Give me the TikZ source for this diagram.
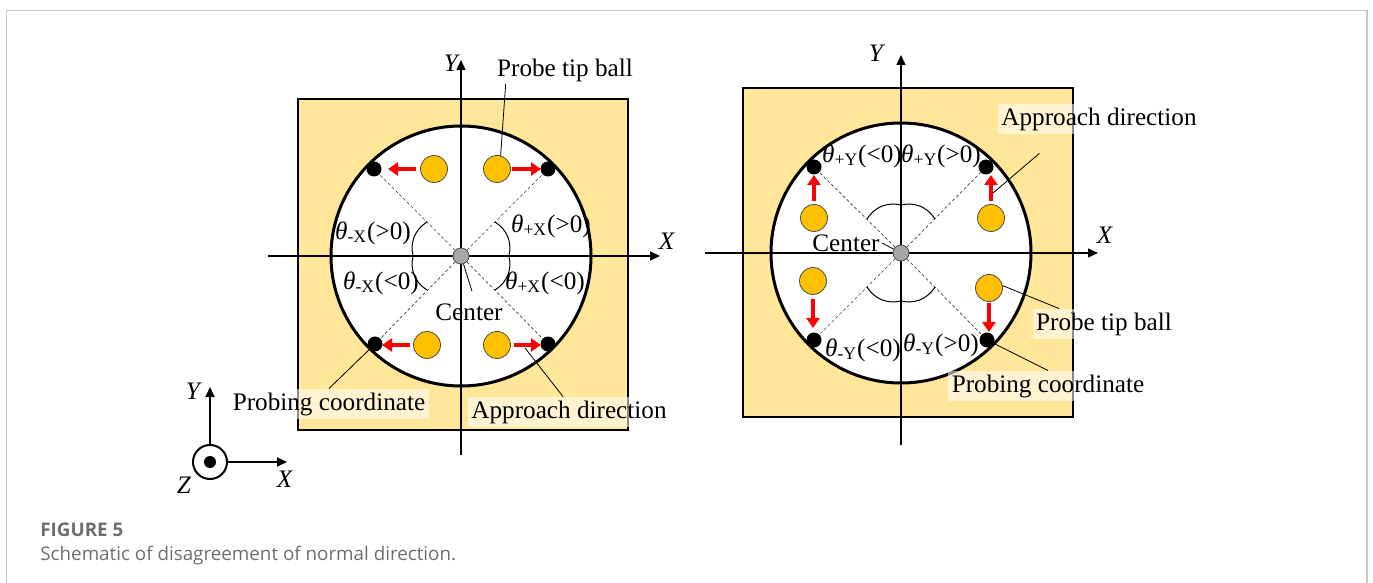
\documentclass[tikz,border=0pt]{standalone}
\usepackage{fontspec}
\setmainfont{Liberation Serif}
\newfontfamily\capfont{Open Sans}
\usetikzlibrary{arrows.meta}

\definecolor{padyellow}{HTML}{FFE699}
\definecolor{tipball}{HTML}{FFC000}
\definecolor{framegray}{HTML}{C8C8C8}
\definecolor{capgray}{HTML}{6D6E71}

\tikzset{
  ball/.style={circle, fill=tipball, draw=black!70, line width=0.4pt, minimum size=13.5pt, inner sep=0pt},
  pdot/.style={circle, fill=black, minimum size=7.5pt, inner sep=0pt},
  cdot/.style={circle, fill=black!35, draw=black!70, line width=0.4pt, minimum size=8pt, inner sep=0pt},
  lbl/.style={font=\fontsize{12.6}{15}\selectfont, inner sep=1pt},
  tag/.style={lbl, fill=white, fill opacity=0.55, text opacity=1, inner sep=1.8pt},
  axis/.style={-{Triangle[length=5pt,width=4.5pt]}, line width=0.7pt},
  leader/.style={line width=0.4pt},
  push/.style={-{Triangle[length=5pt,width=6.5pt]}, red, line width=2.4pt, shorten <=1.5pt, shorten >=3.5pt},
  ray/.style={line width=0.35pt, dash pattern=on 1.5pt off 1.2pt, black!75},
  brace/.style={line width=0.5pt},
  capfnt/.style={font=\capfont\fontsize{9.4}{11}\selectfont, text=capgray, inner sep=0pt},
}

\begin{document}
\begin{tikzpicture}[x=0.5pt, y=-0.5pt]
    \useasboundingbox (0,0) rectangle (1373,583);
    % Frame
    \draw[framegray, line width=0.8pt] (6.5,583) |- (1367,10.5) -- (1367,583);

    % Left panel: approach along X
    \filldraw[fill=padyellow, line width=0.9pt] (298,99) rectangle (628,430);
    \filldraw[fill=white, line width=1.5pt] (461,256) circle (130);
    \draw[axis] (268,256) -- (660,256);
    \draw[axis] (461,455) -- (461,60);
    \node[lbl] (LX) at (667,241) {\textit{X}};
    \node[lbl] (LY) at (452,63) {\textit{Y}};
    \node[cdot] (Lc) at (461,256) {};

    % Probing points and tip balls
    \node[pdot] (Ld1) at (374,169) {};
    \node[pdot] (Ld2) at (548,169) {};
    \node[pdot] (Ld3) at (375,344) {};
    \node[pdot] (Ld4) at (548,344) {};
    \node[ball] (Lb1) at (434,169) {};
    \node[ball] (Lb2) at (497,169) {};
    \node[ball] (Lb3) at (427,345) {};
    \node[ball] (Lb4) at (497,345) {};
    \foreach \d in {Ld1,Ld2,Ld3,Ld4}
        \draw[ray] (Lc) -- (\d);
    \draw[push, shorten >=7pt, shorten <=2pt] (Lb1) -- (Lb1 -| Ld1);
    \draw[push, shorten <=0.5pt] (Lb2) -- (Lb2 -| Ld2);
    \draw[push] (Lb3) -- (Lb3 -| Ld3);
    \draw[push] (Lb4) -- (Lb4 -| Ld4);

    % Angles
    \draw[brace] (427,222) to[bend right=35] (413,256) to[bend right=35] (427,290);
    \draw[brace] (495,222) to[bend left=35] (509,256) to[bend left=35] (495,290);
    \node[lbl] (Lt1) at (373,233) {\textit{θ}\textsubscript{-X}(>0)};
    \node[lbl] (Lt2) at (551,226) {\textit{θ}\textsubscript{+X}(>0)};
    \node[lbl] (Lt3) at (381,283) {\textit{θ}\textsubscript{-X}(<0)};
    \node[lbl] (Lt4) at (545,283) {\textit{θ}\textsubscript{+X}(<0)};

    % Callouts
    \node[lbl] (Lctr) at (469,312) {Center};
    \draw[leader] (Lc) -- ([shift={(1.5pt,5pt)}]Lctr.north);
    \node[lbl] (Lptb) at (565,70) {Probe tip ball};
    \draw[leader] ([xshift=5.5pt]Lptb.south west) -- (Lb2.75);
    \node[tag] (Lpc) at (329,404) {Probing coordinate};
    \draw[leader] (Lpc.north) -- (Ld3);
    \node[tag] (Lad) at (569,412) {Approach direction};
    \coordinate (La4) at (525,348);
    \draw[leader] ([xshift=-3pt]Lad.north) -- (La4);

    % Right panel: approach along Y
    \filldraw[fill=padyellow, line width=0.9pt] (743,88) rectangle (1073,417);
    \filldraw[fill=white, line width=1.5pt] (901,253) circle (130);
    \draw[axis] (705,253) -- (1098,253);
    \draw[axis] (901,445) -- (901,55);
    \node[lbl] (RX) at (1105,235) {\textit{X}};
    \node[lbl] (RY) at (877,53) {\textit{Y}};
    \node[cdot] (Rc) at (901,253) {};

    % Probing points and tip balls
    \node[pdot] (Rd1) at (814,167) {};
    \node[pdot] (Rd2) at (986,167) {};
    \node[pdot] (Rd3) at (814,340) {};
    \node[pdot] (Rd4) at (987,340) {};
    \node[ball] (Rb1) at (814,218) {};
    \node[ball] (Rb2) at (991,218) {};
    \node[ball] (Rb3) at (813,281) {};
    \node[ball] (Rb4) at (989,288) {};
    \foreach \d in {Rd1,Rd2,Rd3,Rd4}
        \draw[ray] (Rc) -- (\d);
    \draw[push, shorten >=4pt] (Rb1) -- (Rb1 |- Rd1);
    \draw[push, shorten >=4pt] (Rb2) -- (Rb2 |- Rd2);
    \draw[push, shorten >=6pt, shorten <=2.2pt] (Rb3) -- (Rb3 |- Rd3);
    \draw[push, shorten >=4pt, shorten <=0.8pt] (Rb4) -- (Rb4 |- Rd4);

    % Angles
    \draw[brace] (867,219) to[bend left=35] (901,205) to[bend left=35] (935,219);
    \draw[brace] (867,287) to[bend right=35] (901,301) to[bend right=35] (935,287);
    \node[lbl] (Rt1) at (862,156) {\textit{θ}\textsubscript{+Y}(<0)};
    \node[lbl] (Rt2) at (941,156) {\textit{θ}\textsubscript{+Y}(>0)};
    \node[lbl] (Rt3) at (863,350) {\textit{θ}\textsubscript{-Y}(<0)};
    \node[lbl] (Rt4) at (941,345) {\textit{θ}\textsubscript{-Y}(>0)};

    % Callouts
    \node[lbl] (Rctr) at (846,243) {Center};
    \draw[leader] (Rctr.east) -- (Rc);
    \node[tag] (Rad) at (1099,119) {Approach direction};
    \coordinate (Ra2) at (993,193);
    \draw[leader] ([shift={(21pt,-9.5pt)}]Rad.south west) -- (Ra2);
    \node[tag] (Rptb) at (1104,324) {Probe tip ball};
    \draw[leader] ([xshift=13.5pt]Rptb.north west) -- (Rb4.10);
    \node[tag] (Rpc) at (1048,386) {Probing coordinate};
    \draw[leader] (Rpc.north) -- (Rd4);

    % Axis triad
    \node[circle, draw, line width=1pt, minimum size=17pt, inner sep=0pt] (Tz) at (210,462) {};
    \node[circle, fill, minimum size=6pt, inner sep=0pt] (Tzd) at (210,462) {};
    \coordinate (Ty) at (210,387);
    \coordinate (Tx) at (287,462);
    \draw[axis, line width=1pt] (Tz) -- (Ty);
    \draw[axis, line width=1pt] (Tz) -- (Tx);
    \node[lbl] (TY) at (194,391) {\textit{Y}};
    \node[lbl] (TX) at (285,479) {\textit{X}};
    \node[lbl] (TZ) at (184,485) {\textit{Z}};

    % Caption
    \node[capfnt, anchor=base west] (fig) at (40,536) {\bfseries FIGURE 5};
    \node[capfnt, anchor=base west] (capt) at (40,560) {Schematic of disagreement of normal direction.};
\end{tikzpicture}
\end{document}
